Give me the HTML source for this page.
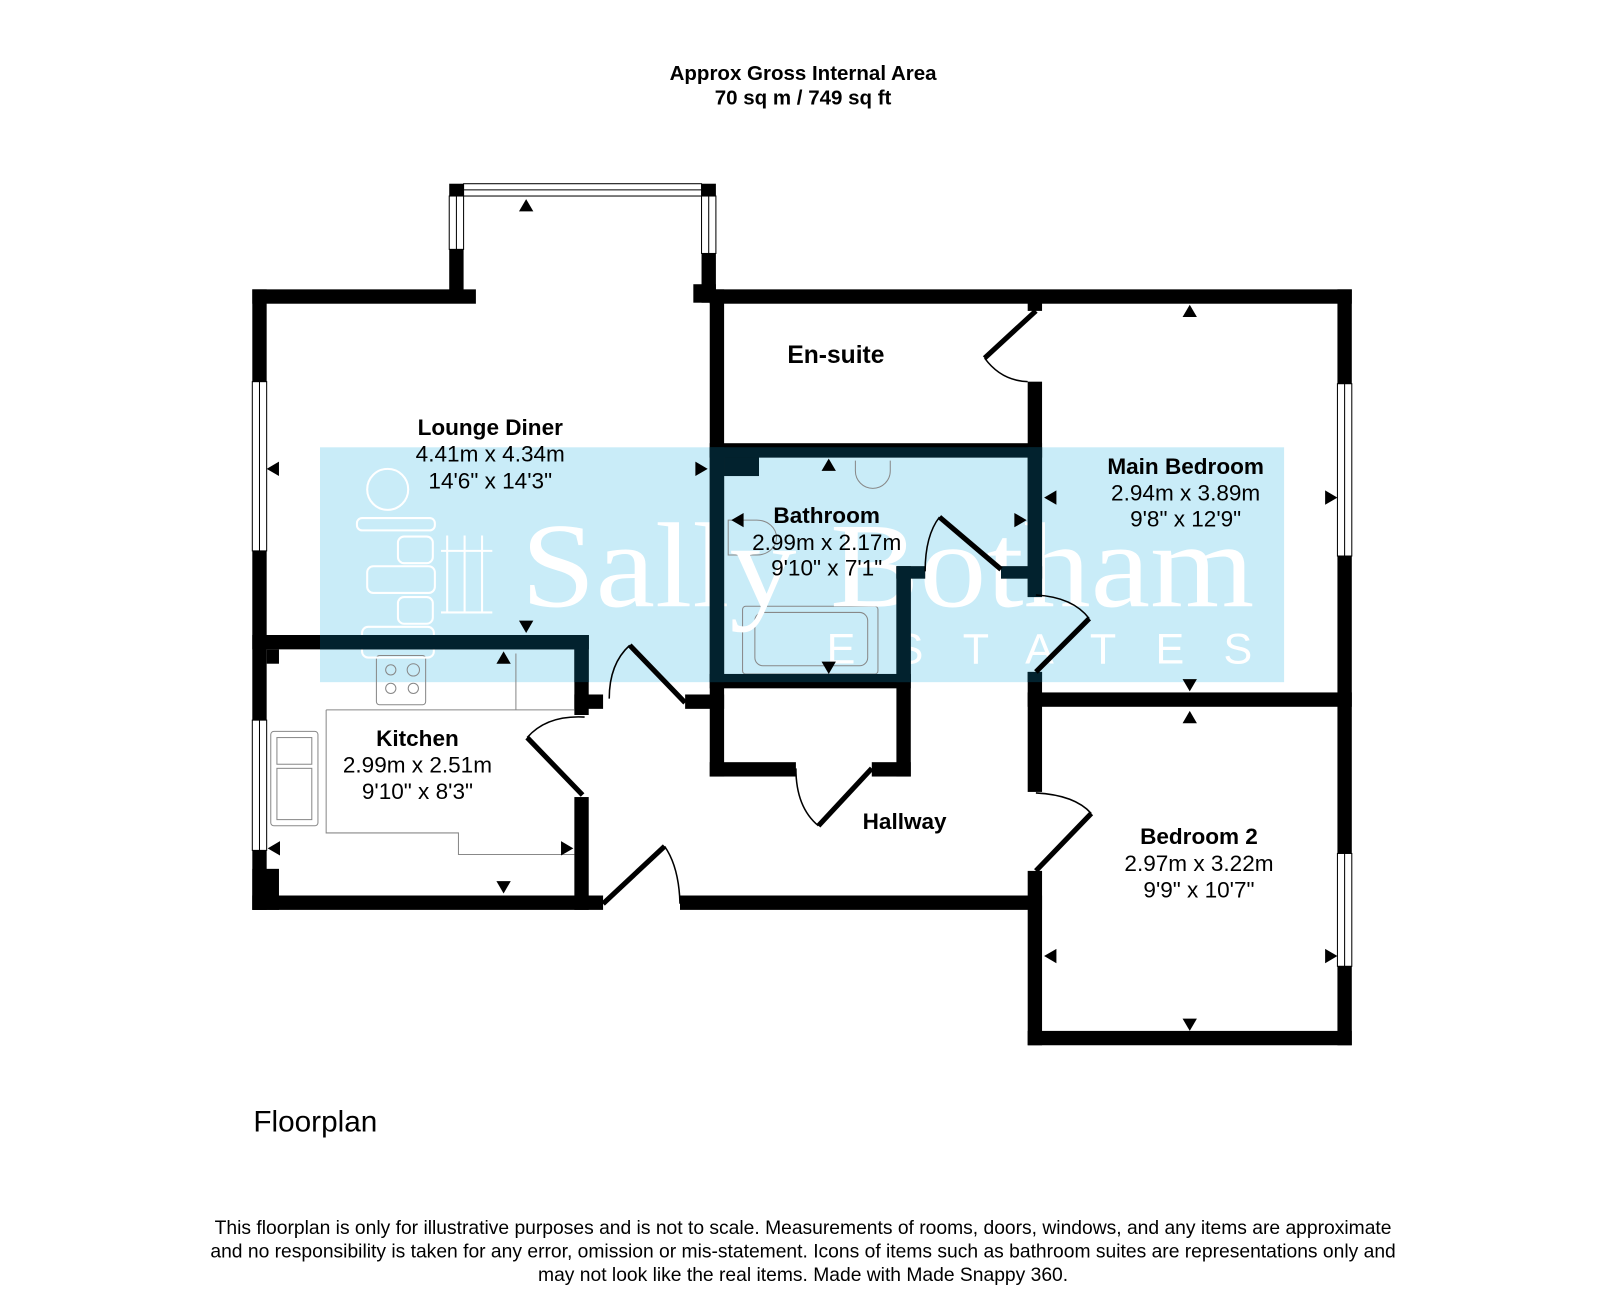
<!DOCTYPE html>
<html><head><meta charset="utf-8"><style>
html,body{margin:0;padding:0;background:#fff;}
svg{display:block;}
</style></head><body>
<svg width="1600" height="1310" viewBox="0 0 1560 1277" xmlns="http://www.w3.org/2000/svg" font-family="Liberation Sans, sans-serif">
<defs>
<clipPath id="wm"><rect x="314" y="439" width="940" height="229"/></clipPath>
<g id="walls" fill="currentColor">
  <rect x="248" y="285" width="14" height="605"/>
  <rect x="248" y="285" width="218" height="14"/>
  <rect x="440" y="182" width="14" height="116"/>
  <rect x="686" y="182" width="14" height="116"/>
  <rect x="678" y="280" width="22" height="18"/>
  <rect x="694" y="285" width="626" height="14"/>
  <rect x="1306" y="285" width="14" height="737"/>
  <rect x="694" y="285" width="14" height="475"/>
  <rect x="694" y="435" width="324" height="14"/>
  <rect x="708" y="449" width="34" height="18"/>
  <rect x="1004" y="375" width="14" height="210"/>
  <rect x="1004" y="296" width="14" height="10"/>
  <rect x="876" y="555" width="14" height="205"/>
  <rect x="876" y="555" width="28" height="12"/>
  <rect x="978" y="555" width="40" height="12"/>
  <rect x="694" y="660" width="196" height="14"/>
  <rect x="694" y="746" width="84" height="14"/>
  <rect x="852" y="746" width="38" height="14"/>
  <rect x="670" y="680" width="38" height="14"/>
  <rect x="248" y="622" width="328" height="14"/>
  <rect x="262" y="636" width="12" height="14"/>
  <rect x="562" y="622" width="14" height="78"/>
  <rect x="562" y="680" width="28" height="14"/>
  <rect x="562" y="780" width="14" height="110"/>
  <rect x="248" y="850" width="26" height="40"/>
  <rect x="248" y="876" width="342" height="14"/>
  <rect x="665" y="876" width="353" height="14"/>
  <rect x="1004" y="658" width="14" height="117"/>
  <rect x="1004" y="852" width="14" height="170"/>
  <rect x="1004" y="678" width="316" height="14"/>
  <rect x="1004" y="1008" width="316" height="14"/>
</g>
</defs>

<text x="783" y="78" font-size="20" font-weight="bold" text-anchor="middle">Approx Gross Internal Area</text>
<text x="783" y="102" font-size="20" font-weight="bold" text-anchor="middle">70 sq m / 749 sq ft</text>

<g transform="translate(-2,-3)">
<rect x="314" y="439" width="940" height="229" fill="#c9ecf8"/>

<g fill="none" stroke="#888" stroke-width="1">
  <path d="M320 695 H505 V640 M505 695 H562 M320 695 V815 H449 V836 H562"/>
  <rect x="369" y="642" width="48" height="48" rx="3"/>
  <circle cx="383" cy="656" r="5"/><circle cx="405" cy="656" r="6"/>
  <circle cx="383" cy="674" r="5"/><circle cx="405" cy="674" r="5"/>
  <rect x="266" y="716" width="46" height="92" rx="3"/>
  <rect x="272" y="722" width="34" height="26"/>
  <rect x="272" y="752" width="34" height="50"/>
  <rect x="726" y="594" width="132" height="66" rx="3"/>
  <rect x="738" y="600" width="110" height="52" rx="8"/>
  <path d="M836 452 v10 a14 14 0 0 0 34 0 v-10"/>
  <path d="M712 510 h28 a18 16 0 0 1 0 34 h-28 z"/>
</g>
<g fill="none" stroke="#fff" stroke-width="2">
  <circle cx="380" cy="480" r="20"/>
  <rect x="350" y="508" width="76" height="12" rx="5"/>
  <rect x="390" y="526" width="34" height="26" rx="6"/>
  <rect x="360" y="555" width="66" height="26" rx="6"/>
  <rect x="390" y="585" width="34" height="26" rx="6"/>
  <rect x="355" y="614" width="70" height="30" rx="6"/>
  <path d="M438 600 V525 M455 600 V525 M472 600 V525 M432 540 H482 M432 600 H482"/>
</g>
<text x="510" y="594" style="font-family:'Liberation Serif',serif" font-size="118" fill="#fff" textLength="715" lengthAdjust="spacingAndGlyphs">Sally Botham</text>
<text x="808" y="650" font-size="42" fill="#fff" textLength="415" lengthAdjust="spacing">ESTATES</text>

<use href="#walls" style="color:#000"/>
<g clip-path="url(#wm)"><use href="#walls" style="color:#02222e"/></g>

<g fill="#fff" stroke="#000" stroke-width="1">
  <rect x="248" y="375" width="14" height="165"/>
  <rect x="248" y="705" width="14" height="127"/>
  <rect x="1306" y="377" width="14" height="168"/>
  <rect x="1306" y="835" width="14" height="110"/>
  <rect x="454" y="182" width="232" height="12"/>
  <rect x="440" y="194" width="14" height="52"/>
  <rect x="686" y="194" width="14" height="56"/>
</g>
<g stroke="#000" stroke-width="1">
  <line x1="255" y1="375" x2="255" y2="540"/>
  <line x1="255" y1="705" x2="255" y2="832"/>
  <line x1="1313" y1="377" x2="1313" y2="545"/>
  <line x1="1313" y1="835" x2="1313" y2="945"/>
  <line x1="454" y1="188" x2="686" y2="188"/>
  <line x1="447" y1="194" x2="447" y2="246"/>
  <line x1="693" y1="194" x2="693" y2="250"/>
</g>

<g fill="none" stroke="#000">
  <path d="M1012 306 L962 352" stroke-width="5"/>
  <path d="M962 352 Q978 374 1004 375" stroke-width="1.5"/>
  <path d="M978 558 L918 507" stroke-width="5"/>
  <path d="M918 507 Q904 525 904 560" stroke-width="1.5"/>
  <path d="M1012 658 L1064 606" stroke-width="5"/>
  <path d="M1064 606 Q1048 585 1012 583" stroke-width="1.5"/>
  <path d="M1012 852 L1066 796" stroke-width="5"/>
  <path d="M1066 796 Q1050 778 1012 776" stroke-width="1.5"/>
  <path d="M852 752 L800 808" stroke-width="5"/>
  <path d="M800 808 Q778 790 778 752" stroke-width="1.5"/>
  <path d="M570 778 L516 722" stroke-width="5"/>
  <path d="M516 722 Q535 700 572 702" stroke-width="1.5"/>
  <path d="M670 688 L616 632" stroke-width="5"/>
  <path d="M616 632 Q596 650 596 684" stroke-width="1.5"/>
  <path d="M590 884 L650 828" stroke-width="5"/>
  <path d="M650 828 Q664 848 665 884" stroke-width="1.5"/>
</g>

<g fill="#000">
  <path d="M508 209 l7 -12 l7 12z"/><path d="M508 608 l7 12 l7 -12z"/>
  <path d="M274 453 l-12 7 l12 7z"/><path d="M680 453 l12 7 l-12 7z"/>
  <path d="M486 650 l7 -12 l7 12z"/><path d="M486 862 l7 12 l7 -12z"/>
  <path d="M275 823 l-12 7 l12 7z"/><path d="M549 823 l12 7 l-12 7z"/>
  <path d="M803 462 l7 -12 l7 12z"/><path d="M803 648 l7 12 l7 -12z"/>
  <path d="M727 503 l-12 7 l12 7z"/><path d="M991 503 l12 7 l-12 7z"/>
  <path d="M1155 312 l7 -12 l7 12z"/><path d="M1155 665 l7 12 l7 -12z"/>
  <path d="M1032 481 l-12 7 l12 7z"/><path d="M1294 481 l12 7 l-12 7z"/>
  <path d="M1155 708 l7 -12 l7 12z"/><path d="M1155 996 l7 12 l7 -12z"/>
  <path d="M1032 928 l-12 7 l12 7z"/><path d="M1294 928 l12 7 l-12 7z"/>
</g>

<g text-anchor="middle" fill="#000">
  <text x="480" y="427" font-size="22" font-weight="bold">Lounge Diner</text>
  <text x="480" y="453" font-size="22">4.41m x 4.34m</text>
  <text x="480" y="479" font-size="22">14'6" x 14'3"</text>
  <text x="817" y="357" font-size="24" font-weight="bold">En-suite</text>
  <text x="808" y="513" font-size="22" font-weight="bold">Bathroom</text>
  <text x="808" y="539" font-size="22">2.99m x 2.17m</text>
  <text x="808" y="564" font-size="22">9'10" x 7'1"</text>
  <text x="1158" y="465" font-size="22" font-weight="bold">Main Bedroom</text>
  <text x="1158" y="491" font-size="22">2.94m x 3.89m</text>
  <text x="1158" y="516" font-size="22">9'8" x 12'9"</text>
  <text x="409" y="730" font-size="22" font-weight="bold">Kitchen</text>
  <text x="409" y="756" font-size="22">2.99m x 2.51m</text>
  <text x="409" y="782" font-size="22">9'10" x 8'3"</text>
  <text x="884" y="811" font-size="22" font-weight="bold">Hallway</text>
  <text x="1171" y="826" font-size="22" font-weight="bold">Bedroom 2</text>
  <text x="1171" y="852" font-size="22">2.97m x 3.22m</text>
  <text x="1171" y="878" font-size="22">9'9" x 10'7"</text>
</g>
</g>

<text x="247" y="1103" font-size="29">Floorplan</text>
<g text-anchor="middle" font-size="18.8" fill="#000">
  <text x="783" y="1203">This floorplan is only for illustrative purposes and is not to scale. Measurements of rooms, doors, windows, and any items are approximate</text>
  <text x="783" y="1226">and no responsibility is taken for any error, omission or mis-statement. Icons of items such as bathroom suites are representations only and</text>
  <text x="783" y="1249">may not look like the real items. Made with Made Snappy 360.</text>
</g>
</svg>
</body></html>
